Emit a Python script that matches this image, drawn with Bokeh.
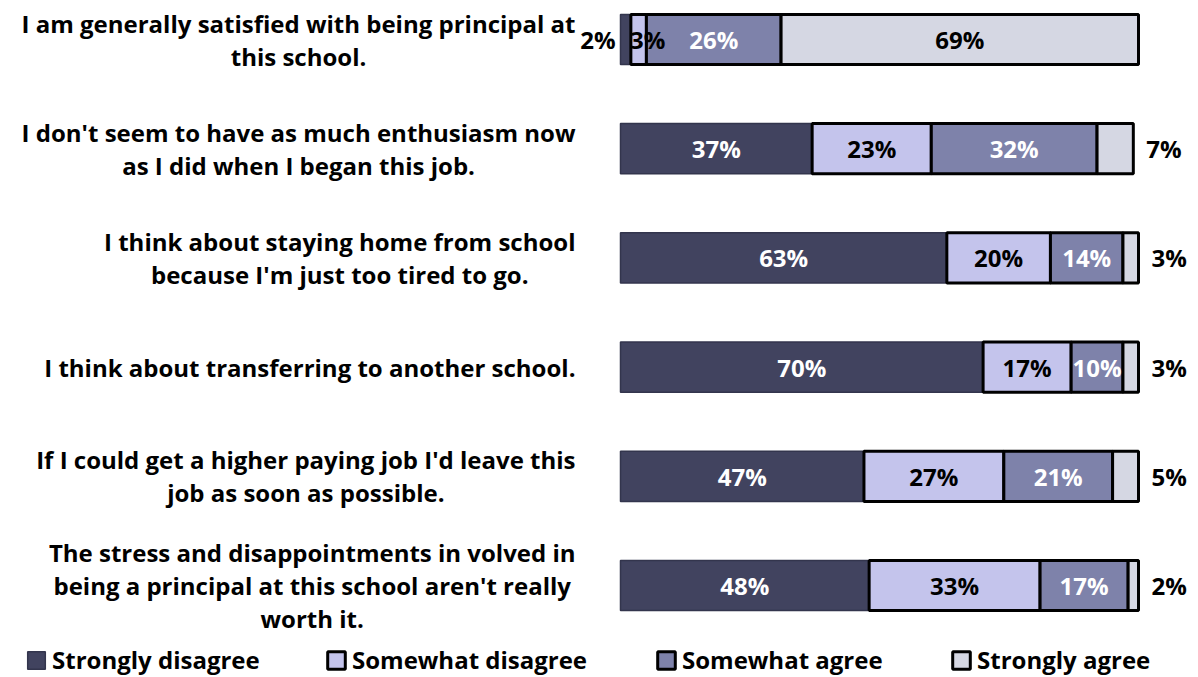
from bokeh.plotting import figure
from bokeh.models import Range1d, ColumnDataSource, Legend, LegendItem
from bokeh.core.properties import value
from bokeh.embed import file_html
from bokeh.resources import INLINE

# ---------------- data ----------------
statements = [
    "I am generally satisfied with being principal at\nthis school.",
    "I don't seem to have as much enthusiasm now\nas I did when I began this job.",
    "I think about staying home from school\nbecause I'm just too tired to go.",
    "I think about transferring to another school.",
    "If I could get a higher paying job I'd leave this\njob as soon as possible.",
    "The stress and disappointments in volved in\nbeing a principal at this school aren't really\nworth it.",
]
series_names = ["Strongly disagree", "Somewhat disagree", "Somewhat agree", "Strongly agree"]
strongly_disagree = [2, 37, 63, 70, 47, 48]
somewhat_disagree = [3, 23, 20, 17, 27, 33]
somewhat_agree = [26, 32, 14, 10, 21, 17]
strongly_agree = [69, 7, 3, 3, 5, 2]

colors = ["#41435f", "#c4c4ec", "#7e82aa", "#d5d7e3"]
text_colors = ["white", "black", "white", "black"]
FONT = "Open Sans"
FS = "24px"

values = [strongly_disagree, somewhat_disagree, somewhat_agree, strongly_agree]
n = len(statements)
ys = [n - 1 - i for i in range(n)]

W, H = 1198, 677
px_per_unit = 5.18
x0 = 620
row_px = 109.2
top_row_px = 39
y_top = (n - 1) + top_row_px / row_px
p = figure(width=W, height=H, output_backend="svg", toolbar_location=None,
           x_range=Range1d(-x0 / px_per_unit, (W - x0) / px_per_unit),
           y_range=Range1d(y_top - H / row_px, y_top),
           min_border=0, outline_line_color=None)
p.axis.visible = False
p.grid.visible = False
p.background_fill_color = "white"

renderers = []
label_sets = []
left = [0.0] * n
for k, vals in enumerate(values):
    right = [l + v for l, v in zip(left, vals)]
    src = ColumnDataSource(dict(y=ys, left=left, right=right))
    if k == 0:
        r = p.hbar(y="y", left="left", right="right", height=0.46, source=src,
                   fill_color=colors[k], line_color="#33354d", line_width=1.5)
    else:
        r = p.hbar(y="y", left="left", right="right", height=0.46, source=src,
                   fill_color=colors[k], line_color="black", line_width=3)
    renderers.append(r)
    in_x, in_y, in_t, in_off = [], [], [], []
    out_x, out_y, out_t = [], [], []
    for i in range(n):
        lab = f"{vals[i]}%"
        if k == 0 and vals[i] < 5:
            out_x.append(left[i]); out_y.append(ys[i]); out_t.append(lab)
        elif k == 3 and vals[i] < 10:
            out_x.append(right[i]); out_y.append(ys[i]); out_t.append(lab)
        else:
            in_x.append((left[i] + right[i]) / 2); in_y.append(ys[i]); in_t.append(lab)
            in_off.append(9 if vals[i] < 5 else 0)
    label_sets.append((k, in_x, in_y, in_t, in_off, out_x, out_y, out_t))
    left = right

# value labels (drawn after all bars)
for k, in_x, in_y, in_t, in_off, out_x, out_y, out_t in label_sets:
    p.text(x="x", y="y", text="t", x_offset="o",
           source=ColumnDataSource(dict(x=in_x, y=in_y, t=in_t, o=in_off)),
           text_align="center", text_baseline="middle",
           text_color=text_colors[k], text_font=value(FONT), text_font_style="bold",
           text_font_size=FS)
    if out_t:
        if k == 0:
            p.text(x=out_x, y=out_y, text=out_t, text_align="right", text_baseline="middle",
                   text_color="black", text_font=value(FONT), text_font_style="bold",
                   text_font_size=FS, x_offset=-5)
        else:
            p.text(x=out_x, y=out_y, text=out_t, text_align="left", text_baseline="middle",
                   text_color="black", text_font=value(FONT), text_font_style="bold",
                   text_font_size=FS, x_offset=13)

# category labels
p.text(x=[0] * n, y=ys, text=statements, anchor="center_right", text_align="center",
       text_baseline="middle", text_color="black", text_font=value(FONT),
       text_font_style="bold", text_font_size=FS, text_line_height=1.0, x_offset=-45)

# legend
leg_x = [25, 325, 655, 950]
for k in range(4):
    leg = Legend(items=[LegendItem(label=series_names[k], renderers=[renderers[k]])],
                 location=(leg_x[k], 1), orientation="horizontal", padding=0, margin=0,
                 border_line_color=None, background_fill_alpha=0,
                 glyph_width=22, glyph_height=22, label_standoff=5,
                 label_text_font=FONT, label_text_font_style="bold",
                 label_text_color="black",
                 label_text_font_size=FS, label_height=24)
    p.add_layout(leg, "center")

open("out.html", "w").write(file_html(p, INLINE))
